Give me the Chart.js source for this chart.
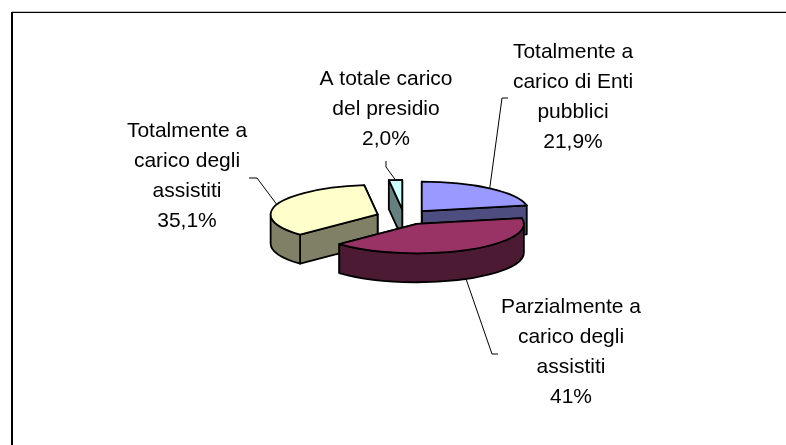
<!DOCTYPE html>
<html>
<head>
<meta charset="utf-8">
<title>Carico delle rette</title>
<script src="https://cdn.jsdelivr.net/npm/chart.js@4/dist/chart.umd.min.js"></script>
<style>
  html, body { margin: 0; padding: 0; background: #fff; }
  canvas { display: block; }
</style>
</head>
<body>
<canvas id="pie3d" width="786" height="445"></canvas>
<script>
/* =============================
   DATA
============================= */
const categories = [
  "Totalmente a carico di Enti pubblici",
  "Parzialmente a carico degli assistiti",
  "Totalmente a carico degli assistiti",
  "A totale carico del presidio"
];
const values = [21.9, 41.0, 35.1, 2.0];
const valueLabels = ["21,9%", "41%", "35,1%", "2,0%"];
const categoryLines = [
  ["Totalmente a", "carico di Enti", "pubblici"],
  ["Parzialmente a", "carico degli", "assistiti"],
  ["Totalmente a", "carico degli", "assistiti"],
  ["A totale carico", "del presidio"]
];

/* =============================
   STYLE / LAYOUT
============================= */
const topColors = ["#9999ff", "#993366", "#ffffcc", "#ccffff"];
const wallColors = ["#4d4d80", "#4d1a33", "#808066", "#668080"];

const TILT = 0.275;     // vertical squash of the pie
const DEPTH = 29;       // wall height in px
const EXPLODE = 28;     // slice explosion
const RADIUS = 107;

// label block: centre x, first baseline
const labelPos = [
  { x: 573, y: 58 },
  { x: 571, y: 313 },
  { x: 187, y: 137 },
  { x: 386, y: 85 }
];
const LINE_H = 30;

// leader elbows, the first point comes from the slice itself
const leaderElbows = [
  [[502, 98], [508, 98]],
  [[492, 354], [498, 354]],
  [[257, 178], [249, 178]],
  [[386, 167], [386, 161]]
];

/* =============================
   PLUGIN: 3D WALLS, OUTLINES, LABELS
============================= */
function squash(ctx, cy) {
  ctx.translate(0, cy);
  ctx.scale(1, TILT);
  ctx.translate(0, -cy);
}

function drawFace(ctx, arc, cy, angle, color) {
  const ax = arc.x;
  const ay = cy + (arc.y - cy) * TILT;
  const ex = ax + Math.cos(angle) * arc.outerRadius;
  const ey = ay + Math.sin(angle) * arc.outerRadius * TILT;
  ctx.beginPath();
  ctx.moveTo(ax, ay);
  ctx.lineTo(ex, ey);
  ctx.lineTo(ex, ey + DEPTH);
  ctx.lineTo(ax, ay + DEPTH);
  ctx.closePath();
  ctx.fillStyle = color;
  ctx.fill();
  ctx.stroke();
}

function drawOuterWall(ctx, arc, cy, color) {
  const from = Math.max(arc.startAngle, 0);
  const to = Math.min(arc.endAngle, Math.PI);
  if (from >= to) return;
  const ay = cy + (arc.y - cy) * TILT;
  const rx = arc.outerRadius;
  const ry = arc.outerRadius * TILT;
  ctx.beginPath();
  ctx.ellipse(arc.x, ay, rx, ry, 0, from, to);
  ctx.ellipse(arc.x, ay + DEPTH, rx, ry, 0, to, from, true);
  ctx.closePath();
  ctx.fillStyle = color;
  ctx.fill();
  ctx.stroke();
}

const pie3d = {
  id: "pie3d",
  beforeDraw(chart) {
    const { ctx } = chart;
    ctx.save();
    ctx.fillStyle = "#c4c4c4";
    ctx.fillRect(12, 11, 774, 1);
    ctx.fillStyle = "#000";
    ctx.fillRect(11, 12, 775, 1);
    ctx.fillRect(11, 12, 2, 433);
    ctx.restore();
  },
  afterDatasetsUpdate(chart) {
    chart.getDatasetMeta(0).data.forEach(arc => {
      const mid = (arc.startAngle + arc.endAngle) / 2;
      arc.x += Math.cos(mid) * EXPLODE;
      arc.y += Math.sin(mid) * EXPLODE;
    });
  },
  beforeDatasetsDraw(chart) {
    const { ctx } = chart;
    const arcs = chart.getDatasetMeta(0).data;
    const cy = (chart.chartArea.top + chart.chartArea.bottom) / 2;

    ctx.save();
    ctx.strokeStyle = "#000";
    ctx.lineWidth = 1.8;
    ctx.lineJoin = "round";
    // back slices first, so nearer walls paint over them
    const order = arcs.map((arc, i) => i).sort((a, b) => arcs[a].y - arcs[b].y);
    order.forEach(i => {
      const arc = arcs[i];
      drawFace(ctx, arc, cy, arc.endAngle, wallColors[i]);
      drawFace(ctx, arc, cy, arc.startAngle, wallColors[i]);
      drawOuterWall(ctx, arc, cy, wallColors[i]);
    });
    ctx.restore();

    ctx.save();
    squash(ctx, cy);
  },
  afterDatasetsDraw(chart) {
    const { ctx } = chart;
    const arcs = chart.getDatasetMeta(0).data;
    const cy = (chart.chartArea.top + chart.chartArea.bottom) / 2;
    ctx.restore();

    ctx.save();
    ctx.strokeStyle = "#000";
    ctx.lineWidth = 1.8;
    ctx.lineJoin = "round";
    arcs.forEach(arc => {
      // path built squashed, stroked flat, so the line stays even
      ctx.save();
      squash(ctx, cy);
      ctx.beginPath();
      ctx.moveTo(arc.x, arc.y);
      ctx.arc(arc.x, arc.y, arc.outerRadius, arc.startAngle, arc.endAngle);
      ctx.closePath();
      ctx.restore();
      ctx.stroke();
    });

    // leaders
    ctx.lineWidth = 1;
    arcs.forEach((arc, i) => {
      const mid = (arc.startAngle + arc.endAngle) / 2;
      const sx = arc.x + Math.cos(mid) * arc.outerRadius;
      let sy = cy + (arc.y - cy + Math.sin(mid) * arc.outerRadius) * TILT;
      if (Math.sin(mid) > 0) sy += DEPTH;
      ctx.beginPath();
      ctx.moveTo(sx, sy);
      leaderElbows[i].forEach(p => ctx.lineTo(p[0], p[1]));
      ctx.stroke();
    });

    // labels
    ctx.fillStyle = "#000";
    ctx.font = '21px "Liberation Sans", Arial, sans-serif';
    ctx.textAlign = "center";
    ctx.textBaseline = "alphabetic";
    labelPos.forEach((pos, i) => {
      const lines = categoryLines[i].concat(valueLabels[i]);
      lines.forEach((line, n) => ctx.fillText(line, pos.x, pos.y + n * LINE_H));
    });
    ctx.restore();
  }
};

/* =============================
   CHART
============================= */
new Chart(document.getElementById("pie3d"), {
  type: "pie",
  data: {
    labels: categories,
    datasets: [{
      data: values,
      backgroundColor: topColors,
      borderWidth: 0
    }]
  },
  options: {
    responsive: false,
    animation: false,
    events: [],
    radius: RADIUS,
    layout: { padding: { left: 22, bottom: 11 } },
    plugins: {
      legend: { display: false },
      tooltip: { enabled: false }
    }
  },
  plugins: [pie3d]
});
</script>
</body>
</html>
